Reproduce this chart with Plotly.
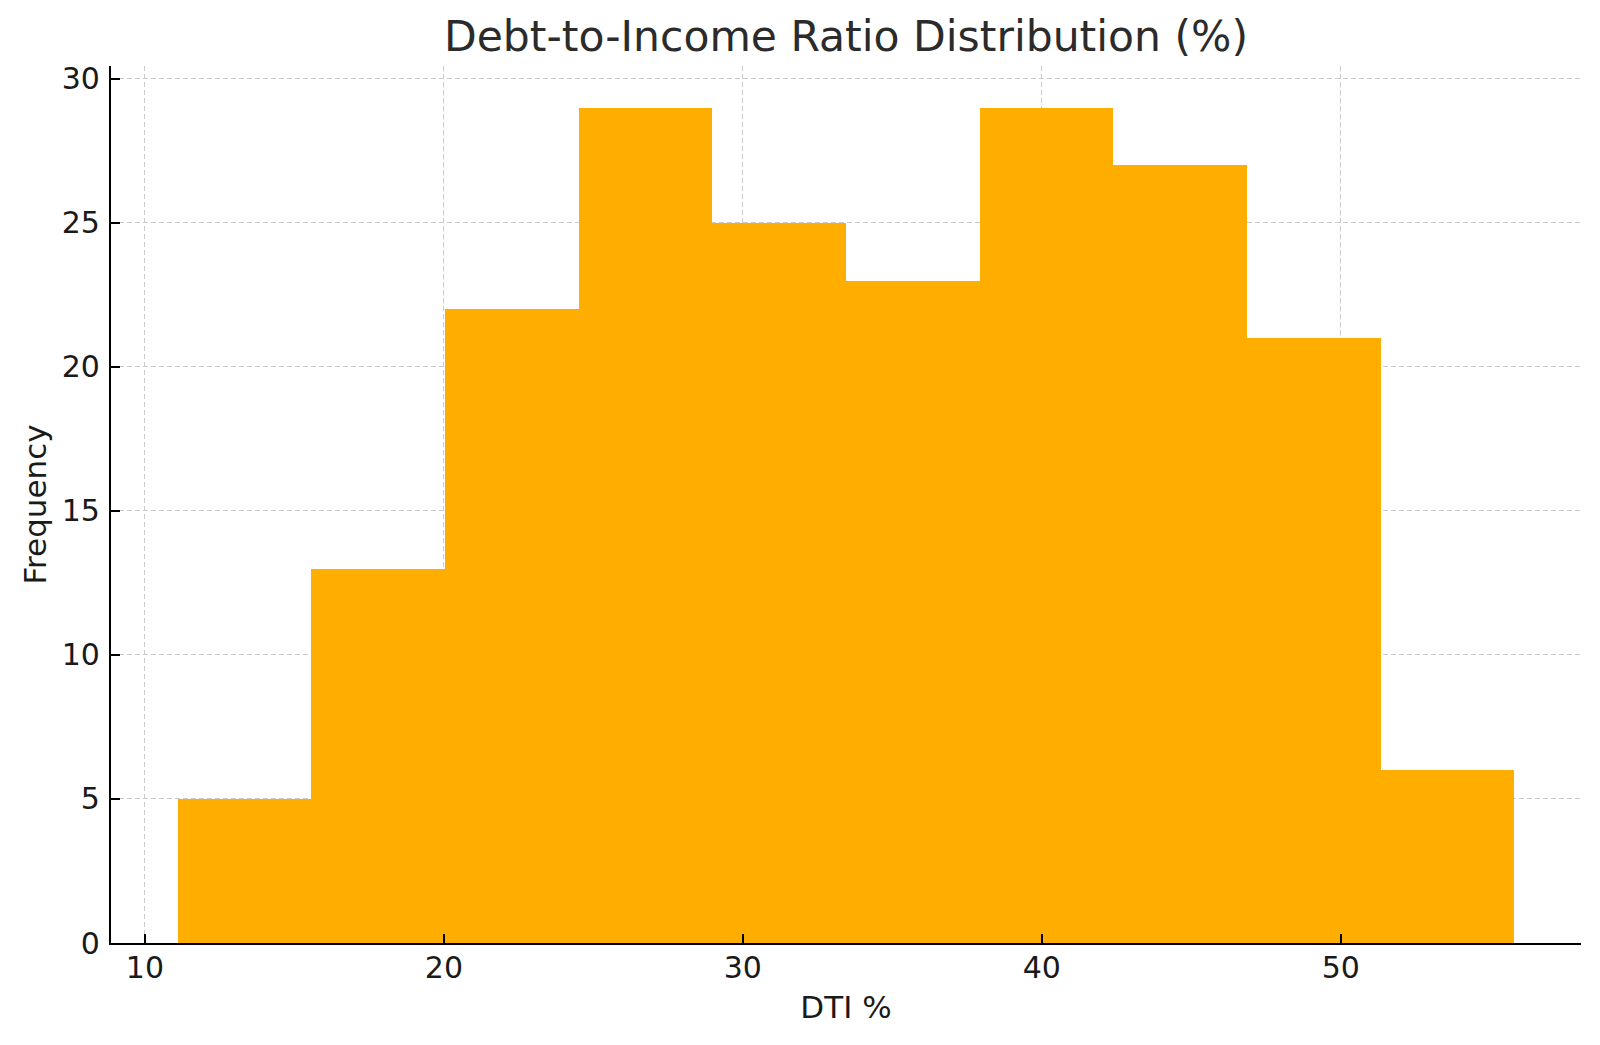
import plotly.graph_objects as go

bin_edges = [11.1, 15.57, 20.04, 24.51, 28.98, 33.45, 37.92, 42.39, 46.86, 51.33, 55.8]
counts = [5, 13, 22, 29, 25, 23, 29, 27, 21, 6]
x_ticks = [10, 20, 30, 40, 50]
y_ticks = [0, 5, 10, 15, 20, 25, 30]

centers = [(a + b) / 2 for a, b in zip(bin_edges[:-1], bin_edges[1:])]
widths = [b - a for a, b in zip(bin_edges[:-1], bin_edges[1:])]

span = bin_edges[-1] - bin_edges[0]
xr = [bin_edges[0] - 0.05 * span, bin_edges[-1] + 0.05 * span]
yr = [0, max(counts) * 1.05]

FONT = "DejaVu Sans"
fig = go.Figure(go.Bar(x=centers, y=counts, width=widths,
                       marker=dict(color="#FFAE00", line=dict(width=0))))

fig.update_layout(
    width=1600, height=1045,
    margin=dict(l=111, r=19, t=66, b=102),
    paper_bgcolor="white", plot_bgcolor="white",
    font=dict(family=FONT, color="#1a1a1a"),
    title=dict(text="Debt-to-Income Ratio Distribution (%)", x=0.5, xref="paper",
               xanchor="center", y=1 - 36 / 1045, yref="container", yanchor="middle",
               font=dict(size=42.5, family=FONT, color="#2b2b2b")),
    showlegend=False,
    bargap=0,
)
axis_common = dict(ticks="inside", ticklen=9, tickwidth=1.6, tickcolor="black",
                   showline=True, linecolor="black", linewidth=2.3,
                   showgrid=True, gridcolor="#cbcbcb", gridwidth=1.1, griddash="5px,3px",
                   zeroline=False, tickfont=dict(size=30, color="#1a1a1a"))
fig.update_xaxes(range=xr, tickvals=x_ticks, ticklabelstandoff=-3, **axis_common,
                 title=dict(text="DTI %", font=dict(size=31, color="#1a1a1a"), standoff=12))
fig.update_yaxes(range=yr, tickvals=y_ticks, ticklabelstandoff=3, **axis_common,
                 title=dict(text="Frequency", font=dict(size=31, color="#1a1a1a"), standoff=6))

fig.write_html("out.html", config={"displayModeBar": False},
               post_script="document.body.style.margin='0';document.body.style.overflow='hidden';")
